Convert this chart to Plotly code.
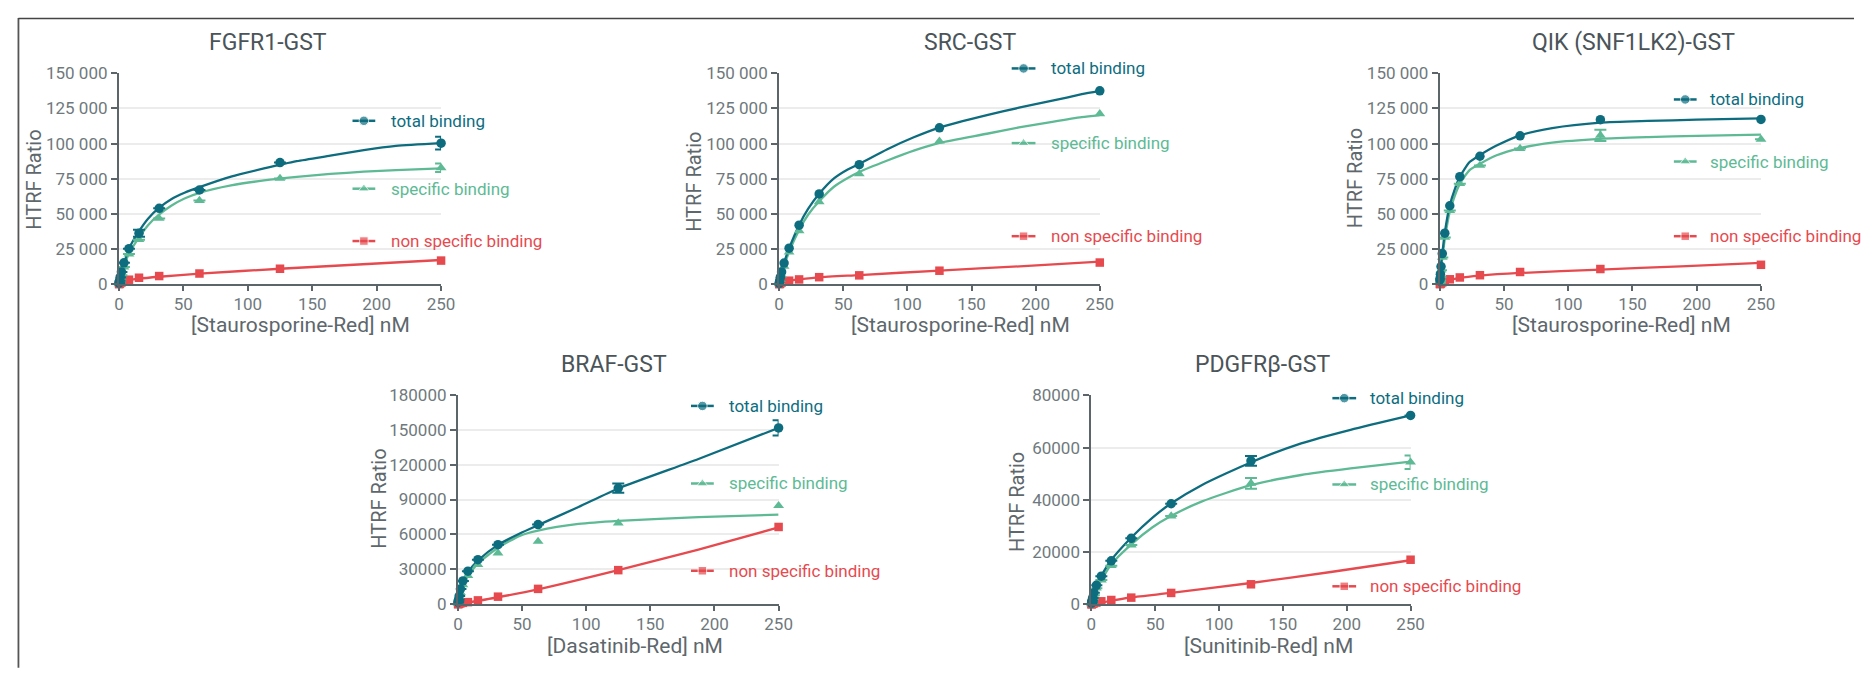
import plotly.graph_objects as go

W, H = 1876, 678          # target picture size
OFF = 8                   # default page margin of the browser body
FW, FH = W - 2 * OFF, H - 2 * OFF   # figure size so that page == window
FONT = "Roboto, Liberation Sans Narrow, sans-serif"
C_TOTAL = "#0d6d7f"
C_SPEC = "#5dba95"
C_NS = "#e64a4f"
C_AXIS = "#5b656a"
C_TICK = "#6f797d"
C_TITLE = "#4a5459"
C_GRID = "#ececec"

# ---------------- data ----------------
conc = [0.12, 0.24, 0.49, 0.98, 1.95, 3.9, 7.8, 15.6, 31.25, 62.5, 125, 250]

# FGFR1-GST
fgfr1_total = [700, 1400, 2600, 5000, 8700, 15200, 25300, 36300, 54000, 67000, 86500, 100300]
fgfr1_total_err = [None] * 7 + [2500, None, None, None, 4500]
fgfr1_spec = [300, 700, 1500, 3200, 6400, 12200, 21400, 31700, 46800, 59500, 75200, 82800]
fgfr1_spec_err = [None] * 11 + [3000]
fgfr1_ns = [100, 200, 400, 700, 1200, 2000, 3200, 4600, 5800, 7600, 11000, 16800]
fgfr1_fit_x = [0, 2, 4, 7.5, 15.4, 22.6, 31.1, 40.6, 50.9, 62.5, 87, 112.6, 138, 164, 190, 215, 250]
fgfr1_fit_total = [0, 8500, 14500, 24800, 37400, 46600, 54200, 60400, 65000, 69000, 76500, 82300, 87500, 91400, 95300, 98300, 100300]
fgfr1_fit_spec = [0, 6500, 12000, 21400, 32900, 42000, 49400, 55800, 60900, 65000, 70300, 73800, 76300, 78400, 80000, 81100, 82400]
fgfr1_ns_x = [0, 7.8, 15.6, 31.25, 62.5, 125, 250]
fgfr1_fit_ns = [1000, 2800, 3900, 5300, 7500, 11000, 17200]

# SRC-GST
src_total = [600, 1300, 2500, 5000, 8700, 15000, 25600, 42000, 64200, 85000, 111200, 137500]
src_spec = [300, 700, 1600, 3300, 6500, 12600, 22800, 38000, 58600, 78400, 101700, 121200]
src_ns = [100, 200, 300, 600, 1200, 1800, 2500, 3400, 5000, 6300, 9600, 15400]
src_fit_x = [0, 2, 3.9, 7.8, 15.6, 22.6, 31.25, 43, 53.5, 62.8, 84.4, 105, 125, 162, 187, 213, 236, 250]
src_fit_total = [0, 8700, 15200, 25500, 42000, 53500, 64300, 75400, 81600, 85700, 96000, 104500, 111400, 120200, 125500, 130500, 135100, 137500]
src_fit_spec = [0, 6600, 12900, 23000, 38600, 49400, 59000, 69500, 75500, 80000, 88000, 95000, 100500, 107000, 111500, 115500, 118800, 120300]
src_ns_x = [0, 7.8, 15.6, 31.25, 62.5, 125, 187.5, 250]
src_fit_ns = [500, 2500, 3400, 4900, 6500, 9700, 12700, 16000]

# QIK (SNF1LK2)-GST
qik_total = [3000, 4100, 7100, 12600, 21800, 36300, 55800, 76500, 91000, 105500, 117000, 117200]
qik_spec = [1200, 2500, 5000, 10000, 19000, 33300, 52400, 71500, 84500, 96500, 105900, 103000]
qik_spec_err = [None] * 10 + [4000, None]
qik_ns = [100, 200, 400, 700, 1300, 2500, 3500, 4800, 6400, 8700, 10800, 13800]
qik_fit_x = [0, 0.77, 2.06, 3.86, 7.7, 11.6, 15.7, 23.2, 31.4, 43.8, 62.6, 87.5, 125, 162, 200, 250]
qik_fit_total = [0, 12600, 22500, 36300, 55800, 67300, 76500, 86900, 91900, 98400, 105900, 111000, 114900, 116100, 117000, 118000]
qik_fit_spec = [0, 9900, 19100, 31700, 51300, 62700, 71500, 81100, 85700, 91500, 96800, 100700, 103400, 104600, 105500, 106400]
qik_ns_x = [0, 7.8, 15.6, 31.25, 62.5, 125, 187.5, 250]
qik_fit_ns = [800, 3000, 4500, 6100, 8000, 10400, 12700, 15200]

# BRAF-GST
braf_total = [1500, 2500, 4000, 7000, 13000, 20000, 28400, 38300, 51200, 68500, 99800, 151500]
braf_total_err = [None] * 10 + [3900, 6500]
braf_spec = [800, 1600, 3000, 5500, 10000, 16700, 24500, 34000, 44000, 54000, 69700, 84700]
braf_ns = [100, 200, 300, 500, 800, 1200, 1800, 3300, 6500, 13200, 29300, 66400]
braf_fit_x = [0, 1, 2, 4, 8, 16, 31.25, 48.6, 62.5, 94, 125, 187.5, 250]
braf_fit_total = [0, 7000, 12700, 19500, 28000, 38000, 51000, 61000, 68000, 83500, 99500, 124800, 151500]
braf_fit_spec = [0, 4500, 9000, 16700, 24500, 35500, 48500, 59000, 63300, 69000, 71700, 74800, 77000]
braf_ns_x = [0, 31.25, 62.5, 125, 187.5, 250]
braf_fit_ns = [0, 6000, 12800, 29300, 47000, 66000]

# PDGFRb-GST
pdgfr_total = [500, 900, 1500, 2500, 4500, 7300, 10800, 16700, 25300, 38500, 54900, 72300]
pdgfr_total_err = [None] * 10 + [1900, None]
pdgfr_spec = [250, 500, 1000, 2000, 3500, 6200, 9300, 14800, 22700, 33800, 46300, 54400]
pdgfr_spec_err = [None] * 10 + [2100, 2600]
pdgfr_ns = [50, 100, 200, 300, 400, 700, 1200, 1700, 2600, 4400, 7700, 17100]
pdgfr_fit_x = [0, 1.8, 3.9, 7.5, 15.3, 31.1, 47.9, 62.3, 86.7, 124.7, 164.3, 203, 250]
pdgfr_fit_total = [0, 4500, 7200, 10700, 16800, 25500, 33200, 38600, 45700, 54300, 61600, 66800, 72300]
pdgfr_fit_spec = [0, 3300, 5700, 9000, 15200, 22900, 29500, 33800, 39400, 45600, 49500, 52000, 54600]
pdgfr_ns_x = [0, 31.25, 62.5, 125, 187.5, 250]
pdgfr_fit_ns = [0, 2700, 4400, 8200, 12400, 16900]

x_ticks = [0, 50, 100, 150, 200, 250]
x_ticktext = ["0", "50", "100", "150", "200", "250"]
y_ticks_150k = [0, 25000, 50000, 75000, 100000, 125000, 150000]
y_ticktext_150k = ["0", "25 000", "50 000", "75 000", "100 000", "125 000", "150 000"]
y_ticks_braf = [0, 30000, 60000, 90000, 120000, 150000, 180000]
y_ticktext_braf = ["0", "30000", "60000", "90000", "120000", "150000", "180000"]
y_ticks_pdgfr = [0, 20000, 40000, 60000, 80000]
y_ticktext_pdgfr = ["0", "20000", "40000", "60000", "80000"]

titles = ["FGFR1-GST", "SRC-GST", "QIK (SNF1LK2)-GST", "BRAF-GST", "PDGFRβ-GST"]
x_titles = ["[Staurosporine-Red] nM", "[Staurosporine-Red] nM", "[Staurosporine-Red] nM",
            "[Dasatinib-Red] nM", "[Sunitinib-Red] nM"]
y_title = "HTRF Ratio"
series_names = ["total binding", "specific binding", "non specific binding"]

panels = [
    dict(total=fgfr1_total, total_err=fgfr1_total_err, spec=fgfr1_spec, spec_err=fgfr1_spec_err, ns=fgfr1_ns,
         fx=fgfr1_fit_x, ft=fgfr1_fit_total, fs=fgfr1_fit_spec, nx=fgfr1_ns_x, fn=fgfr1_fit_ns,
         yt=y_ticks_150k, ytt=y_ticktext_150k),
    dict(total=src_total, total_err=None, spec=src_spec, spec_err=None, ns=src_ns,
         fx=src_fit_x, ft=src_fit_total, fs=src_fit_spec, nx=src_ns_x, fn=src_fit_ns,
         yt=y_ticks_150k, ytt=y_ticktext_150k),
    dict(total=qik_total, total_err=None, spec=qik_spec, spec_err=qik_spec_err, ns=qik_ns,
         fx=qik_fit_x, ft=qik_fit_total, fs=qik_fit_spec, nx=qik_ns_x, fn=qik_fit_ns,
         yt=y_ticks_150k, ytt=y_ticktext_150k),
    dict(total=braf_total, total_err=braf_total_err, spec=braf_spec, spec_err=None, ns=braf_ns,
         fx=braf_fit_x, ft=braf_fit_total, fs=braf_fit_spec, nx=braf_ns_x, fn=braf_fit_ns,
         yt=y_ticks_braf, ytt=y_ticktext_braf),
    dict(total=pdgfr_total, total_err=pdgfr_total_err, spec=pdgfr_spec, spec_err=pdgfr_spec_err, ns=pdgfr_ns,
         fx=pdgfr_fit_x, ft=pdgfr_fit_total, fs=pdgfr_fit_spec, nx=pdgfr_ns_x, fn=pdgfr_fit_ns,
         yt=y_ticks_pdgfr, ytt=y_ticktext_pdgfr),
]

# ---------------- layout geometry (target-picture pixels) ----------------
boxes = [(115, 440.5, 65, 282.5), (782, 1106, 65, 282.5), (1449.5, 1774, 65, 282.5),
         (457.5, 781.5, 396.5, 612.5), (1097.5, 1420, 397, 612.7)]
title_pos = [(266, 33), (975, 33), (1645, 33), (615, 365), (1270, 365)]
xtitle_pos = [(298, 325), (965, 325), (1633, 325), (636, 656), (1276, 656)]
ytitle_pos = [(29, 175), (696, 177), (1364, 173), (377.5, 504), (1022.5, 507)]
legend_pos = [(351, 374, 388, (114, 184, 238)), (1017, 1041, 1055, (60, 137, 233)),
              (1686, 1709, 1720, (92, 156, 233)), (693, 716, 729, (408, 488, 578)),
              (1341, 1365, 1377, (400, 489, 594))]


def px(x):
    return (x - OFF) / FW


def py(y):
    return 1 - (y - OFF) / FH


fig = go.Figure()
layout_axes = {}
annotations = []

for i, p in enumerate(panels):
    k = i + 1
    xa, ya = f"x{k}", f"y{k}"
    spline = dict(shape="spline", smoothing=0.6, width=2.3)
    fig.add_trace(go.Scatter(x=p["nx"], y=p["fn"], mode="lines", line=dict(color=C_NS, **spline),
                             xaxis=xa, yaxis=ya, hoverinfo="skip"))
    fig.add_trace(go.Scatter(x=p["fx"], y=p["fs"], mode="lines", line=dict(color=C_SPEC, **spline),
                             xaxis=xa, yaxis=ya, hoverinfo="skip"))
    fig.add_trace(go.Scatter(x=p["fx"], y=p["ft"], mode="lines", line=dict(color=C_TOTAL, **spline),
                             xaxis=xa, yaxis=ya, hoverinfo="skip"))
    fig.add_trace(go.Scatter(x=conc, y=p["ns"], mode="markers", cliponaxis=False,
                             marker=dict(symbol="square", size=8.5, color=C_NS),
                             xaxis=xa, yaxis=ya, name=series_names[2]))
    err = dict(type="data", array=p["spec_err"], visible=True, color=C_SPEC, thickness=2, width=6) \
        if p["spec_err"] else None
    fig.add_trace(go.Scatter(x=conc, y=p["spec"], mode="markers", cliponaxis=False,
                             marker=dict(symbol="triangle-up", size=9.5, color=C_SPEC),
                             error_y=err, xaxis=xa, yaxis=ya, name=series_names[1]))
    err = dict(type="data", array=p["total_err"], visible=True, color=C_TOTAL, thickness=2, width=6) \
        if p["total_err"] else None
    fig.add_trace(go.Scatter(x=conc, y=p["total"], mode="markers", cliponaxis=False,
                             marker=dict(symbol="circle", size=9.5, color=C_TOTAL),
                             error_y=err, xaxis=xa, yaxis=ya, name=series_names[0]))

    l, r, t, b = boxes[i]
    xname = "xaxis" if k == 1 else f"xaxis{k}"
    yname = "yaxis" if k == 1 else f"yaxis{k}"
    layout_axes[xname] = dict(domain=[px(l), px(r)], anchor=ya, range=[0, 250],
                              tickvals=x_ticks, ticktext=x_ticktext,
                              showgrid=False, zeroline=False, showline=True, linecolor=C_AXIS, linewidth=2,
                              ticks="outside", ticklen=5, tickwidth=2, tickcolor=C_AXIS,
                              ticklabelstandoff=-2,
                              tickfont=dict(family=FONT, size=17, color=C_TICK), fixedrange=True)
    layout_axes[yname] = dict(domain=[py(b), py(t)], anchor=xa, range=[0, p["yt"][-1]],
                              tickvals=p["yt"], ticktext=p["ytt"],
                              showgrid=True, gridcolor=C_GRID, gridwidth=1.5,
                              zeroline=False, showline=True, linecolor=C_AXIS, linewidth=2,
                              ticks="outside", ticklen=6, tickwidth=2, tickcolor=C_AXIS,
                              tickfont=dict(family=FONT, size=17, color=C_TICK), fixedrange=True)

    tx, ty = title_pos[i]
    annotations.append(dict(text=titles[i], x=px(tx), y=py(ty), xref="paper", yref="paper",
                            xanchor="center", yanchor="middle", showarrow=False,
                            font=dict(family=FONT, size=23, color=C_TITLE)))
    tx, ty = xtitle_pos[i]
    annotations.append(dict(text=x_titles[i], x=px(tx), y=py(ty), xref="paper", yref="paper",
                            xanchor="center", yanchor="middle", showarrow=False,
                            font=dict(family=FONT, size=21, color="#5d676c")))
    tx, ty = ytitle_pos[i]
    annotations.append(dict(text=y_title, x=px(tx), y=py(ty), xref="paper", yref="paper",
                            xanchor="center", yanchor="middle", showarrow=False, textangle=-90,
                            font=dict(family=FONT, size=20, color="#5d676c")))

    # legend samples on a full-page overlay axis (in target-picture pixels)
    lx0, lx1, ltx, lys = legend_pos[i]
    for name, col, sym, sz, ly in zip(series_names, [C_TOTAL, C_SPEC, C_NS],
                                      ["circle", "triangle-up", "square"], [9.5, 9.5, 8.5], lys):
        fig.add_trace(go.Scatter(x=[lx0, (lx0 + lx1) / 2, lx1], y=[ly, ly, ly], mode="lines+markers",
                                 line=dict(color=col, width=2.5),
                                 marker=dict(symbol=sym, size=[0, sz, 0], color=col),
                                 xaxis="x6", yaxis="y6", hoverinfo="skip", cliponaxis=False))
        annotations.append(dict(text=name, x=px(ltx), y=py(ly), xref="paper", yref="paper",
                                xanchor="left", yanchor="middle", showarrow=False,
                                font=dict(family=FONT, size=17, color=col)))

layout_axes["xaxis6"] = dict(domain=[0, 1], range=[OFF, OFF + FW], visible=False, anchor="y6", fixedrange=True)
layout_axes["yaxis6"] = dict(domain=[0, 1], range=[OFF + FH, OFF], visible=False, anchor="x6", fixedrange=True)

shapes = [
    dict(type="line", xref="paper", yref="paper", x0=px(13.5), x1=px(13.5), y0=1, y1=py(H),
         line=dict(color="#555555", width=1.8)),
    dict(type="line", xref="paper", yref="paper", x0=px(13.5), x1=1, y0=py(8.6), y1=py(8.6),
         line=dict(color="#444444", width=1.5)),
]

fig.update_layout(width=FW, height=FH, autosize=False, margin=dict(l=0, r=0, t=0, b=0),
                  paper_bgcolor="white", plot_bgcolor="rgba(0,0,0,0)", showlegend=False,
                  annotations=annotations, shapes=shapes, **layout_axes)

fig.write_html("out.html", config={"displayModeBar": False})
